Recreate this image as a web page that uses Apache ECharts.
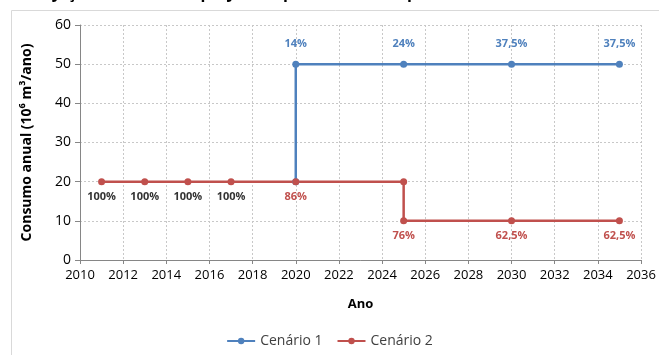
<!DOCTYPE html>
<html>
<head>
<meta charset="utf-8">
<script src="https://cdn.jsdelivr.net/npm/echarts@6/dist/echarts.min.js"></script>
<style>
  html, body { margin: 0; padding: 0; background: #fff; }
  #chart { width: 659px; height: 355px; }
</style>
</head>
<body>
<div id="chart"></div>
<script>
// dados
var yearTicks = [2010, 2036];
var c1Years = [2020, 2020, 2025, 2030, 2035];
var c1Values = [20, 50, 50, 50, 50];
var c1Labels = ['', '14%', '24%', '37,5%', '37,5%'];

var c2Years = [2011, 2013, 2015, 2017, 2020, 2025, 2025, 2030, 2035];
var c2Values = [20, 20, 20, 20, 20, 20, 10, 10, 10];
var c2Labels = ['100%', '100%', '100%', '100%', '86%', '', '76%', '62,5%', '62,5%'];

var blue = '#4F81BD';
var red = '#C0504D';
var font = 'Open Sans';

var chart = echarts.init(document.getElementById('chart'));

function build(years, values, labels, labelColor) {
	var out = [];
	for (var i = 0; i < years.length; i++) {
		out.push({
			value: [years[i], values[i]],
			label: { color: labelColor(labels[i]) }
		});
	}
	return out;
}

var option = {
	animation: false,
	textStyle: { fontFamily: font },
	graphic: [
		{
			type: 'rect',
			shape: { x: 11.5, y: 10.5, width: 700, height: 400 },
			style: { fill: 'none', stroke: '#d9d9d9', lineWidth: 1 },
			silent: true
		},
		{
			type: 'text',
			x: 26,
			y: 1,
			style: {
				text: 'Projeção do consumo projetado para reúso, em ponto',
				font: 'bold 16px Open Sans',
				fill: '#000',
				verticalAlign: 'bottom'
			}
		}
	],
	legend: {
		bottom: 2,
		left: 'center',
		itemWidth: 28,
		itemHeight: 8,
		itemGap: 14,
		textStyle: { fontSize: 14, color: '#404040', fontFamily: font },
		data: ['Cenário 1', 'Cenário 2']
	},
	grid: { left: 80, right: 18, top: 25, bottom: 95 },
	xAxis: {
		type: 'value',
		min: yearTicks[0],
		max: yearTicks[1],
		interval: 2,
		name: 'Ano',
		nameLocation: 'middle',
		nameGap: 38,
		nameTextStyle: { fontWeight: 'bold', fontSize: 13, color: '#000' },
		axisLine: { lineStyle: { color: '#868686' } },
		axisTick: { show: true, length: 4, lineStyle: { color: '#868686' } },
		axisLabel: {
			fontSize: 13,
			color: '#000',
			margin: 9,
			formatter: function (v) { return String(v); }
		},
		splitLine: { show: true, lineStyle: { color: '#c8c8c8', type: [2, 2] } }
	},
	yAxis: {
		type: 'value',
		min: 0,
		max: 60,
		interval: 10,
		name: 'Consumo anual (10⁶ m³/ano)',
		nameLocation: 'middle',
		nameGap: 46,
		nameTextStyle: { fontWeight: 'bold', fontSize: 14, color: '#000' },
		axisLine: { show: true, lineStyle: { color: '#868686' } },
		axisTick: { show: true, length: 5, lineStyle: { color: '#868686' } },
		axisLabel: { fontSize: 14, color: '#000', margin: 9 },
		splitLine: { show: true, lineStyle: { color: '#c8c8c8', type: [2, 2] } }
	},
	series: [
		{
			name: 'Cenário 1',
			type: 'line',
			color: blue,
			symbol: 'circle',
			symbolSize: 7,
			lineStyle: { width: 2.5, color: blue },
			label: {
				show: true,
				position: 'top',
				distance: 11,
				fontSize: 11,
				fontWeight: 'bold',
				formatter: function (p) { return c1Labels[p.dataIndex]; }
			},
			data: build(c1Years, c1Values, c1Labels, function () { return blue; })
		},
		{
			name: 'Cenário 2',
			type: 'line',
			color: red,
			symbol: 'circle',
			symbolSize: 7,
			lineStyle: { width: 2.5, color: red },
			label: {
				show: true,
				position: 'bottom',
				distance: 6,
				fontSize: 11,
				fontWeight: 'bold',
				formatter: function (p) { return c2Labels[p.dataIndex]; }
			},
			data: build(c2Years, c2Values, c2Labels, function (t) {
				return t === '100%' ? '#333333' : red;
			})
		}
	]
};

chart.setOption(option);
</script>
</body>
</html>
